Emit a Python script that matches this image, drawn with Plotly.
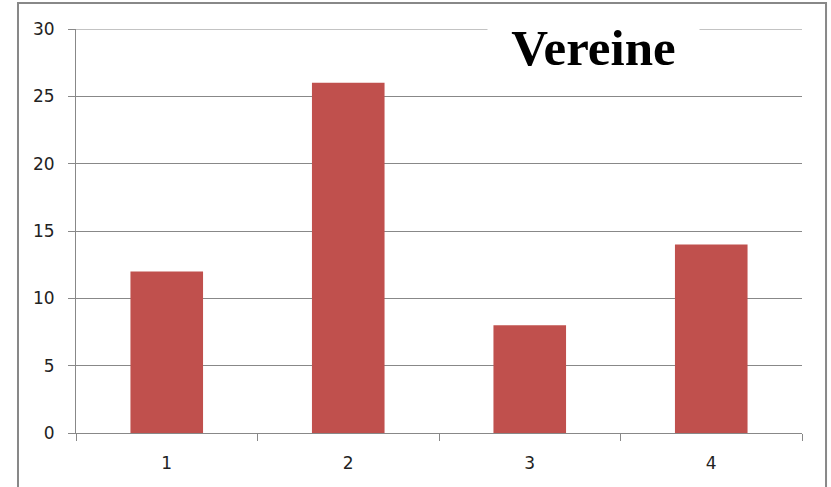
import plotly.graph_objects as go

categories = ["1", "2", "3", "4"]
values = [12, 26, 8, 14]
y_ticks = [0, 5, 10, 15, 20, 25, 30]
title_text = "Vereine"

fig = go.Figure()

fig.add_trace(go.Bar(
    x=categories,
    y=values,
    marker=dict(color="#C0504D", line=dict(width=0)),
    width=0.4,
))

grid = "#888888"
tick_font = dict(family="DejaVu Sans", size=17, color="#222222")

fig.update_layout(
    width=831,
    height=487,
    margin=dict(l=76, r=29, t=29, b=54),
    paper_bgcolor="white",
    plot_bgcolor="white",
    showlegend=False,
    xaxis=dict(
        type="category",
        tickson="boundaries",
        ticks="outside",
        ticklen=7,
        tickcolor=grid,
        showline=True,
        linecolor=grid,
        linewidth=1,
        showgrid=False,
        tickfont=tick_font,
        ticklabelstandoff=15,
    ),
    yaxis=dict(
        range=[0, 30],
        tickvals=y_ticks,
        ticks="outside",
        ticklen=7,
        tickcolor=grid,
        showline=True,
        linecolor=grid,
        linewidth=1,
        gridcolor=grid,
        gridwidth=1,
        zeroline=False,
        tickfont=tick_font,
        ticklabelstandoff=10,
    ),
)

# plotly skips the gridline on the top edge, so draw it
fig.add_shape(
    type="line",
    xref="paper", yref="y",
    x0=0, x1=1, y0=y_ticks[-1], y1=y_ticks[-1],
    line=dict(color=grid, width=1),
    layer="below",
)

# title box sitting on the top gridline
fig.add_annotation(
    text="<b>" + title_text + "</b>",
    xref="paper", yref="paper",
    x=0.7128, y=0.953,
    xanchor="center", yanchor="middle",
    showarrow=False,
    font=dict(family="Liberation Serif", size=51, color="black"),
    bgcolor="white",
    width=209,
    height=56,
)

# outer frame
fig.add_shape(
    type="rect",
    xref="paper", yref="paper",
    x0=-0.0799, x1=1.0331, y0=-0.3, y1=1.0644,
    line=dict(color="#888888", width=2),
    fillcolor="rgba(0,0,0,0)",
    layer="above",
)

# drop the page's default body margin so the figure sits at the corner
fig.write_html(
    "out.html",
    config={"displayModeBar": False},
    post_script="document.body.style.margin='0';document.body.style.overflow='hidden';",
)
